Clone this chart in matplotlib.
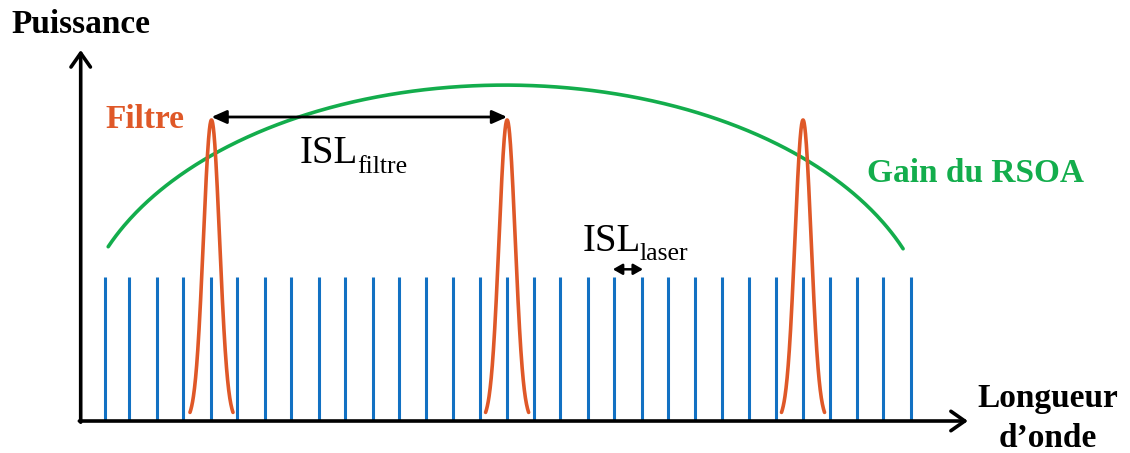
import numpy as np
import matplotlib
matplotlib.use('Agg')
import matplotlib.pyplot as plt

# positions des modes laser (en unités d'ISL laser) et puissance
modes = [0.0, 0.92, 1.94, 2.92, 3.95, 4.93, 5.96, 6.93, 7.97, 8.94,
         9.96, 10.95, 11.94, 12.96, 13.95, 14.97, 15.96, 16.93, 17.96, 18.94,
         19.96, 20.94, 21.94, 22.96, 23.95, 24.95, 25.97, 26.96, 27.97, 28.95, 29.98]
puissance_modes = [0.478] * len(modes)

# pics du filtre : centre, hauteur, largeur
filtre_centres = [3.97, 14.96, 25.96]
filtre_hauteur = 1.0
filtre_sigma = 0.3

# gain du RSOA : arc d'ellipse
gain_centre = 14.88
gain_max = 1.116
gain_demi_largeur = 15.9
gain_profondeur = 0.857
gain_debut, gain_fin = 0.13, 29.68

BLEU = '#1271C3'
ORANGE = '#DF5828'
VERT = '#13AD4C'
W, H = 1130, 453

plt.rcParams['font.family'] = ['Liberation Serif', 'DejaVu Serif']

fig = plt.figure(figsize=(W / 100, H / 100), dpi=100)
ax = fig.add_axes([0, 0, 1, 1])
ax.set_xlim(-3.892, 38.115)
ax.set_ylim(-0.1063, 1.3987)
ax.axis('off')

# modes laser
ax.vlines(modes, 0, puissance_modes, color=BLEU, lw=2.2, zorder=2)

# gain
xg = np.linspace(gain_debut, gain_fin, 400)
yg = gain_max - gain_profondeur * (1 - np.sqrt(1 - ((xg - gain_centre) / gain_demi_largeur) ** 2))
ax.plot(xg, yg, color=VERT, lw=2.6, zorder=3, solid_capstyle='round')

# filtre
for c in filtre_centres:
    xf = np.linspace(c - 0.8, c + 0.8, 200)
    yf = filtre_hauteur * np.exp(-0.5 * ((xf - c) / filtre_sigma) ** 2)
    ax.plot(xf, yf, color=ORANGE, lw=2.6, zorder=4, solid_capstyle='round')

# axes avec flèches
x0 = -0.892
fleche = dict(arrowstyle='->,head_length=0.5,head_width=0.35',
              lw=2.6, color='black', mutation_scale=20, shrinkA=0, shrinkB=0)
ax.annotate('', xy=(x0, 1.2326), xytext=(x0, -0.004), arrowprops=fleche, zorder=5)
ax.annotate('', xy=(32.09, 0), xytext=(x0 - 0.05, 0), arrowprops=fleche, zorder=5)

# ISL filtre et ISL laser
ax.annotate('', xy=(filtre_centres[1], 1.01), xytext=(filtre_centres[0], 1.01),
            arrowprops=dict(arrowstyle='<|-|>,head_length=0.45,head_width=0.2',
                            lw=2.0, color='black', mutation_scale=20,
                            shrinkA=0, shrinkB=0), zorder=6)
ax.annotate('', xy=(modes[20] + 0.05, 0.504), xytext=(modes[19] - 0.05, 0.504),
            arrowprops=dict(arrowstyle='<|-|>,head_length=0.28,head_width=0.16',
                            lw=1.8, color='black', mutation_scale=20,
                            shrinkA=0, shrinkB=0), zorder=6)

# textes
def t(x, y, s, **kw):
    fig.text(x / W, 1 - y / H, s, va='baseline', **kw)

t(11, 33, 'Puissance', fontsize=24, fontweight='bold', color='black')
t(105, 128, 'Filtre', fontsize=24, fontweight='bold', color=ORANGE)
t(867, 182, 'Gain du RSOA', fontsize=24, fontweight='bold', color=VERT)
t(1048, 407, 'Longueur', fontsize=24, fontweight='bold', color='black', ha='center')
t(1048, 447, 'd\u2019onde', fontsize=24, fontweight='bold', color='black', ha='center')
t(300, 163, 'ISL', fontsize=28, color='black')
t(357, 173, 'filtre', fontsize=18.5, color='black')
t(583, 251, 'ISL', fontsize=28, color='black')
t(640, 260, 'laser', fontsize=18.5, color='black')

fig.savefig('out.png', dpi=100, facecolor='white')
